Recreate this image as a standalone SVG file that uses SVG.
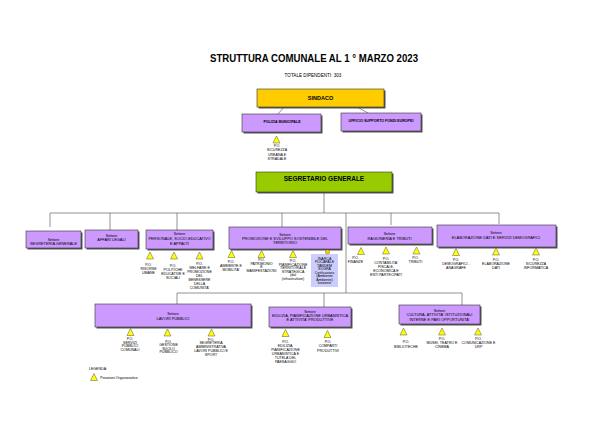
<svg xmlns="http://www.w3.org/2000/svg" width="600" height="425" viewBox="0 0 600 425">
<style>
text{font-family:"Liberation Sans",Arial,sans-serif;text-anchor:middle;fill:#000}
.t{font-size:3.6px}
.s{font-size:3.9px}
.b{fill:#cc99ff;stroke:#333;stroke-width:.6}
.h{fill:#555}
.c{fill:none;stroke:#777;stroke-width:.8}
</style>
<defs><polygon id="tri" points="0,-3.5 3.5,3.5 -3.5,3.5" fill="#ffff00" stroke="#555" stroke-width=".5"/></defs>
<rect width="600" height="425" fill="#fff"/>
<text id="title" x="314" y="61.500" font-size="10.500" font-weight="bold" textLength="208" lengthAdjust="spacingAndGlyphs">STRUTTURA COMUNALE AL 1 ° MARZO 2023</text>
<text x="313" y="77" font-size="4.600" fill="#222">TOTALE DIPENDENTI: 303</text>
<g id="connectors">
<path class="c" d="M284,107L278,114M357,107L368,113"/>
<path class="c" d="M324,192V213M50,227V213H499V224M110,213V230M177,213V230M282,213V227M391,213V225"/>
<path class="c" d="M346,213V293M177,304V293H462V305M324,293V307"/>
</g>
<g id="sindaco"><rect class="h" x="258.500" y="90.500" width="127" height="18"/><rect x="257" y="89" width="127" height="18" fill="#ffcc00" stroke="#333" stroke-width=".6"/><text x="320.500" y="99.500" font-size="5.500" font-weight="bold">SINDACO</text></g>
<g id="polizia"><rect class="h" x="243.500" y="115.500" width="79" height="18"/><rect class="b" x="242" y="114" width="79" height="18"/><text class="t" x="282" y="122.500" font-weight="bold">POLIZIA MUNICIPALE</text></g>
<g id="ufficio"><rect class="h" x="342.500" y="114.500" width="80" height="18"/><rect class="b" x="341" y="113" width="80" height="18"/><text class="t" x="381" y="122" font-weight="bold">UFFICIO SUPPORTO FONDI EUROPEI</text></g>
<g id="po-sicurezza"><use href="#tri" x="276.500" y="139.500"/><text class="t"><tspan x="277" y="146.800">P.O.</tspan><tspan x="277" y="151.300">SICUREZZA</tspan><tspan x="277" y="155.500">URBANA E</tspan><tspan x="277" y="159.500">STRADALE</tspan></text></g>
<g id="segretario"><rect class="h" x="257.500" y="173.500" width="136" height="20"/><rect x="256" y="172" width="136" height="20" fill="#99cc00" stroke="#333" stroke-width=".6"/><text x="324" y="181" font-size="6.500" font-weight="bold">SEGRETARIO GENERALE</text></g>

<g id="s-segreteria"><rect class="h" x="27.500" y="232.500" width="55" height="17"/><rect class="b" x="26" y="231" width="55" height="17"/><text class="t"><tspan x="53.500" y="240.500">Settore</tspan><tspan x="53.500" y="245" class="s">SEGRETERIA GENERALE</tspan></text></g>
<g id="s-affari"><rect class="h" x="86.500" y="231.500" width="53" height="18"/><rect class="b" x="85" y="230" width="53" height="18"/><text class="t"><tspan x="111.500" y="236.500">Settore</tspan><tspan x="111.500" y="241" class="s">AFFARI LEGALI</tspan></text></g>
<g id="s-personale"><rect class="h" x="147.500" y="231.500" width="67" height="19"/><rect class="b" x="146" y="230" width="67" height="19"/><text class="t"><tspan x="179.500" y="235">Settore</tspan><tspan x="179.500" y="239.500" class="s">PERSONALE, SOCIO-EDUCATIVO</tspan><tspan x="179.500" y="244.500" class="s">E APPALTI</tspan></text></g>
<g id="s-promozione"><rect class="h" x="230.500" y="228.500" width="112" height="22"/><rect class="b" x="229" y="227" width="112" height="22"/><text class="t"><tspan x="285" y="235.500">Settore</tspan><tspan x="285" y="239.500" class="s">PROMOZIONE E SVILUPPO SOSTENIBILE DEL</tspan><tspan x="285" y="243.500" class="s">TERRITORIO</tspan></text></g>
<g id="s-ragioneria"><rect class="h" x="349.500" y="228.500" width="84" height="17"/><rect class="b" x="348" y="227" width="84" height="17"/><text class="t"><tspan x="389.500" y="234.500">Settore</tspan><tspan x="389.500" y="239.500" class="s">RAGIONERIA E TRIBUTI</tspan></text></g>
<g id="s-elaborazione"><rect class="h" x="438.500" y="226.500" width="119" height="22"/><rect class="b" x="437" y="225" width="119" height="22"/><text class="t"><tspan x="496" y="234">Settore</tspan><tspan x="496" y="238.500" class="s">ELABORAZIONE DATI E SERVIZI DEMOGRAFICI</tspan></text></g>

<g id="po-personale"><use href="#tri" x="150" y="255.500"/><text class="t"><tspan x="148.500" y="265.500">P.O.</tspan><tspan x="148.500" y="269.500">RISORSE</tspan><tspan x="148.500" y="273.500">UMANE</tspan></text></g>
<g id="po-politiche"><use href="#tri" x="174" y="255.500"/><text class="t"><tspan x="173" y="266.500">P.O.</tspan><tspan x="173" y="270.500">POLITICHE</tspan><tspan x="173" y="274.500">EDUCATIVE E</tspan><tspan x="173" y="278.500">SOCIALI</tspan></text></g>
<g id="po-welfare"><use href="#tri" x="199.500" y="255.500"/><text class="t"><tspan x="199.500" y="264.500">P.O.</tspan><tspan x="199.500" y="268.500">WELFARE E</tspan><tspan x="199.500" y="272.500">PROMOZIONE</tspan><tspan x="199.500" y="276.500">DEL</tspan><tspan x="199.500" y="280.500">BENESSERE</tspan><tspan x="199.500" y="284.500">DELLA</tspan><tspan x="199.500" y="288.500">COMUNITA'</tspan></text></g>

<g id="po-ambiente"><use href="#tri" x="231.500" y="254"/><text class="t"><tspan x="231" y="262.500">P.O.</tspan><tspan x="231" y="266.500">AMBIENTE E</tspan><tspan x="231" y="270.500">MOBILITA'</tspan></text></g>
<g id="po-patrimonio"><use href="#tri" x="261.500" y="254"/><text class="t"><tspan x="261.500" y="261">P.O.</tspan><tspan x="261.500" y="264.500">PATRIMONIO</tspan><tspan x="261.500" y="268">E</tspan><tspan x="261.500" y="271.500">MANIFESTAZIONI</tspan></text></g>
<g id="po-pianificazione"><use href="#tri" x="293" y="254"/><text class="t"><tspan x="293" y="262">P.O.</tspan><tspan x="293" y="265.500">PIANIFICAZIONE</tspan><tspan x="293" y="269">TERRITORIALE</tspan><tspan x="293" y="272.500">STRATEGICA</tspan><tspan x="293" y="276">(dal</tspan><tspan x="293" y="279.500">(infrastrutture)</tspan></text></g>
<g id="incarico"><rect x="311" y="254" width="27" height="33" fill="#ccccff"/><circle cx="327.500" cy="252" r="2.200" fill="#ffcc00" stroke="#555" stroke-width=".4"/><text class="t"><tspan x="324.500" y="259.500">INARCA</tspan><tspan x="324.500" y="263">PLICAFALE</tspan><tspan x="324.500" y="266.500">TANDEM</tspan><tspan x="324.500" y="270">SOGRA</tspan><tspan x="324.500" y="273.500" font-size="3.200">Certificazione</tspan><tspan x="324.500" y="277">(Ambiente</tspan><tspan x="324.500" y="280.500">Ambiente)</tspan><tspan x="324.500" y="284">funzione</tspan></text></g>

<g id="po-finanze"><use href="#tri" x="361" y="251"/><text class="t"><tspan x="355.500" y="259">P.O.</tspan><tspan x="355.500" y="263">FINANZE</tspan></text></g>
<g id="po-contabilita"><use href="#tri" x="386" y="250.500"/><text class="t"><tspan x="386" y="259.500">P.O.</tspan><tspan x="386" y="263.500">CONTABILITA'</tspan><tspan x="386" y="267.500">FISCALE,</tspan><tspan x="386" y="271.500">ECONOMICA E</tspan><tspan x="386" y="275.500">ENTI PARTECIPATI</tspan></text></g>
<g id="po-tributi"><use href="#tri" x="416.500" y="250.500"/><text class="t"><tspan x="415.500" y="259">P.O.</tspan><tspan x="415.500" y="262.500">TRIBUTI</tspan></text></g>

<g id="po-demografici"><use href="#tri" x="456" y="252"/><text class="t"><tspan x="456" y="261">P.O.</tspan><tspan x="456" y="265">DEMOGRAFICI -</tspan><tspan x="456" y="269">ANAGRAFE</tspan></text></g>
<g id="po-elaborazione"><use href="#tri" x="496" y="251.500"/><text class="t"><tspan x="496" y="260.500">P.O.</tspan><tspan x="496" y="264.500">ELABORAZIONE</tspan><tspan x="496" y="268.500">DATI</tspan></text></g>
<g id="po-informatica"><use href="#tri" x="536" y="251.500"/><text class="t"><tspan x="536" y="260.500">P.O.</tspan><tspan x="536" y="264.500">SICUREZZA</tspan><tspan x="536" y="269">INFORMATICA</tspan></text></g>

<g id="s-lavori"><rect class="h" x="96.500" y="305.500" width="156" height="23"/><rect class="b" x="95" y="304" width="156" height="23"/><text class="t"><tspan x="173" y="314.500">Settore</tspan><tspan x="173" y="319.500" class="s">LAVORI PUBBLICI</tspan></text></g>
<g id="s-edilizia"><rect class="h" x="270.500" y="308.500" width="82" height="20"/><rect class="b" x="269" y="307" width="82" height="20"/><text class="t"><tspan x="310" y="312.500">Settore</tspan><tspan x="310" y="317" class="s">EDILIZIA, PIANIFICAZIONE URBANISTICA</tspan><tspan x="310" y="321" class="s">E ATTIVITA' PRODUTTIVE</tspan></text></g>
<g id="s-cultura"><rect class="h" x="400.500" y="306.500" width="81" height="19"/><rect class="b" x="399" y="305" width="81" height="19"/><text class="t"><tspan x="439.500" y="311.500">Settore</tspan><tspan x="439.500" y="316" class="s">CULTURA, ATTIVITA' ISTITUZIONALI</tspan><tspan x="439.500" y="321" class="s">INTERNE E PARI OPPORTUNITA'</tspan></text></g>

<g id="po-servizi"><use href="#tri" x="130.500" y="332"/><text class="t"><tspan x="130" y="340">P.O.</tspan><tspan x="130" y="343.500">SERVIZI</tspan><tspan x="130" y="347">PUBBLICI</tspan><tspan x="130" y="350.500">COMUNALI</tspan></text></g>
<g id="po-gestione"><use href="#tri" x="167.500" y="332.500"/><text class="t"><tspan x="168.500" y="342.500">P.O.</tspan><tspan x="168.500" y="346">GESTIONE</tspan><tspan x="168.500" y="349.500">SUOLO</tspan><tspan x="168.500" y="353">PUBBLICO</tspan></text></g>
<g id="po-segreteria"><use href="#tri" x="211.500" y="332.500"/><text class="t"><tspan x="211" y="340.500">P.O.</tspan><tspan x="211" y="344">SEGRETERIA</tspan><tspan x="211" y="347.500">AMMINISTRATIVA</tspan><tspan x="211" y="351.500">LAVORI PUBBLICI E</tspan><tspan x="211" y="355.500">SPORT</tspan></text></g>

<g id="po-edilizia"><use href="#tri" x="285.500" y="333"/><text class="t"><tspan x="285.500" y="343">P.O.</tspan><tspan x="285.500" y="347">EDILIZIA,</tspan><tspan x="285.500" y="351">PIANIFICAZIONE</tspan><tspan x="285.500" y="355">URBANISTICA E</tspan><tspan x="285.500" y="359">TUTELA DEL</tspan><tspan x="285.500" y="363">PAESAGGIO</tspan></text></g>
<g id="po-comparti"><use href="#tri" x="327.500" y="334"/><text class="t"><tspan x="328" y="343">P.O.</tspan><tspan x="328" y="347">COMPARTI</tspan><tspan x="328" y="351.500">PRODUTTIVI</tspan></text></g>

<g id="po-biblioteche"><use href="#tri" x="403.500" y="331.500"/><text class="t"><tspan x="406" y="342.500">P.O.</tspan><tspan x="406" y="348">BIBLIOTECHE</tspan></text></g>
<g id="po-musei"><use href="#tri" x="442" y="331.500"/><text class="t"><tspan x="442" y="340">P.O.</tspan><tspan x="442" y="344">MUSEI, TEATRO E</tspan><tspan x="442" y="348">CINEMA</tspan></text></g>
<g id="po-comunicazione"><use href="#tri" x="478" y="331.500"/><text class="t"><tspan x="478.500" y="340">P.O.</tspan><tspan x="478.500" y="344">COMUNICAZIONE E</tspan><tspan x="478.500" y="348">URP</tspan></text></g>

<g id="legenda"><text class="t" x="98" y="370">LEGENDA:</text><use href="#tri" x="94" y="377"/><text class="t" x="119" y="379">Posizioni Organizzative</text></g>
</svg>
